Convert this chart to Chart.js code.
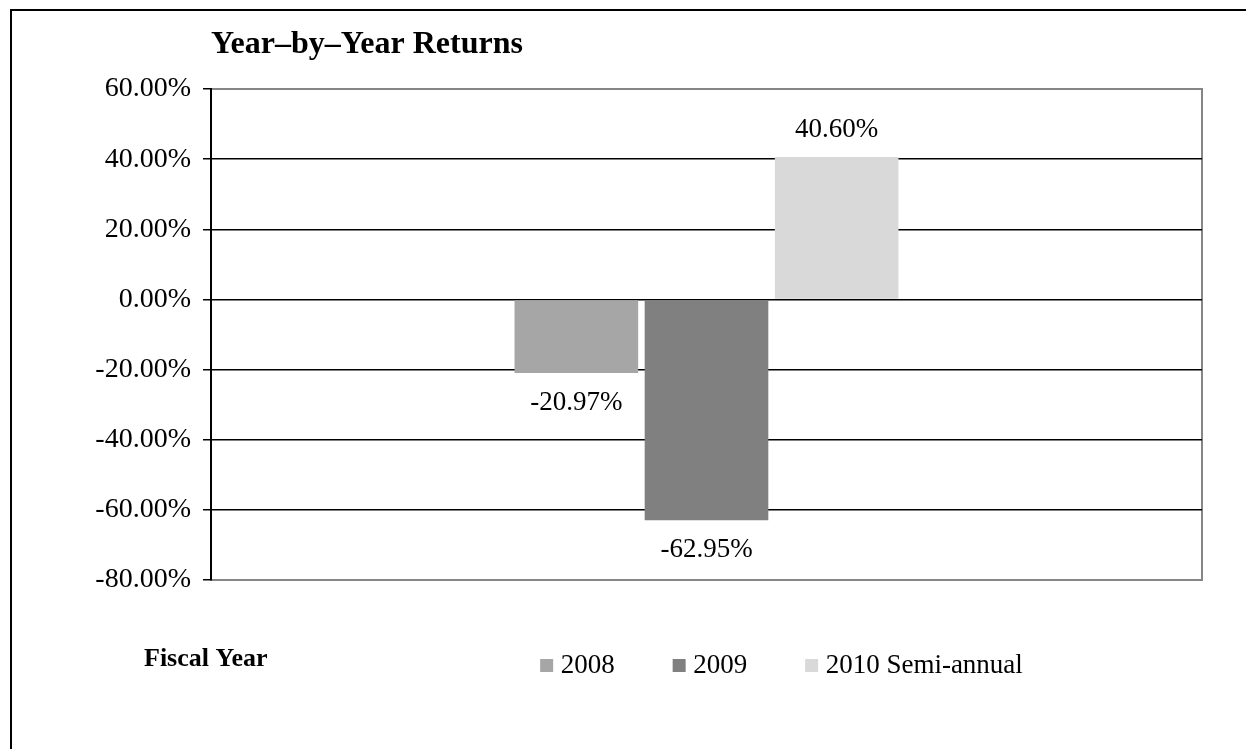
<!DOCTYPE html>
<html>
<head>
<meta charset="utf-8">
<script src="https://cdn.jsdelivr.net/npm/chart.js@4"></script>
<style>
  html, body { margin: 0; padding: 0; background: #fff; }
  #wrap { position: relative; width: 1246px; height: 749px; }
</style>
</head>
<body>
<div id="wrap"><canvas id="returns-chart" width="1246" height="749"></canvas></div>
<script>
// Chart data
const categories = ['Fiscal Year'];
const seriesNames = ['2008', '2009', '2010 Semi-annual'];
const seriesValues = [[-20.97], [-62.95], [40.60]];
const seriesColors = ['#a6a6a6', '#808080', '#d9d9d9'];
const yTicks = { min: -80, max: 60, step: 20 };

const serif = '"Liberation Serif", "Times New Roman", serif';

// Frame, title and axis caption
const decorPlugin = {
    id: 'decor',
    beforeDraw(chart) {
        const ctx = chart.ctx;
        const area = chart.chartArea;
        ctx.save();
        // outer frame (left and top edges only are visible)
        ctx.strokeStyle = '#000';
        ctx.lineWidth = 2;
        ctx.beginPath();
        ctx.moveTo(11, 749);
        ctx.lineTo(11, 10);
        ctx.lineTo(1246, 10);
        ctx.stroke();
        // plot area border
        ctx.strokeStyle = '#868686';
        ctx.lineWidth = 2;
        ctx.strokeRect(area.left, area.top, area.right - area.left, area.bottom - area.top);
        ctx.restore();
    },
    afterDraw(chart) {
        const ctx = chart.ctx;
        ctx.save();
        ctx.fillStyle = '#000';
        ctx.textAlign = 'left';
        ctx.textBaseline = 'alphabetic';
        ctx.font = 'bold 32px ' + serif;
        ctx.fillText('Year\u2013by\u2013Year Returns', 211, 53);
        ctx.font = 'bold 26px ' + serif;
        ctx.fillText('Fiscal Year', 144, 666);
        ctx.restore();
    }
};

// Value labels above / below each bar
const valueLabels = {
    id: 'valueLabels',
    afterDatasetsDraw(chart) {
        const ctx = chart.ctx;
        ctx.save();
        ctx.font = '27px ' + serif;
        ctx.fillStyle = '#000';
        ctx.textAlign = 'center';
        ctx.textBaseline = 'middle';
        chart.data.datasets.forEach((ds, i) => {
            chart.getDatasetMeta(i).data.forEach((bar, j) => {
                const v = ds.data[j];
                const y = v >= 0 ? bar.y - 27 : bar.y + 30;
                ctx.fillText(v.toFixed(2) + '%', bar.x, y);
            });
        });
        ctx.restore();
    }
};

// Move legend to sit under the bars like the original
const legendShift = {
    id: 'legendShift',
    afterLayout(chart) {
        const lg = chart.legend;
        lg.left += 78;
        lg.right += 78;
        lg.top += 8;
        lg.bottom += 8;
    }
};

new Chart(document.getElementById('returns-chart'), {
    type: 'bar',
    data: {
        labels: categories,
        datasets: seriesNames.map((name, i) => ({
            label: name,
            data: seriesValues[i],
            backgroundColor: seriesColors[i],
            borderWidth: 0
        }))
    },
    options: {
        responsive: false,
        animation: false,
        events: [],
        layout: { padding: { left: 20, right: 44, top: 89, bottom: 68 } },
        datasets: { bar: { categoryPercentage: 0.394, barPercentage: 0.95 } },
        scales: {
            x: { display: false },
            y: {
                min: yTicks.min,
                max: yTicks.max,
                afterFit(scale) { scale.width = 191; },
                ticks: {
                    stepSize: yTicks.step,
                    color: '#000',
                    padding: 12,
                    font: { family: serif, size: 28 },
                    callback: v => v.toFixed(2) + '%'
                },
                grid: {
                    color: c => (c.tick.value === yTicks.min || c.tick.value === yTicks.max) ? '#868686' : '#000',
                    lineWidth: 1.5,
                    tickLength: 8,
                    tickColor: '#000'
                },
                border: { color: '#000', width: 2 }
            }
        },
        plugins: {
            title: { display: false },
            tooltip: { enabled: false },
            legend: {
                position: 'bottom',
                fullSize: false,
                labels: {
                    color: '#000',
                    font: { family: serif, size: 27 },
                    usePointStyle: true,
                    pointStyle: 'rect',
                    boxWidth: 1,
                    boxHeight: 13,
                    padding: 64
                }
            }
        }
    },
    plugins: [decorPlugin, valueLabels, legendShift]
});
</script>
</body>
</html>
